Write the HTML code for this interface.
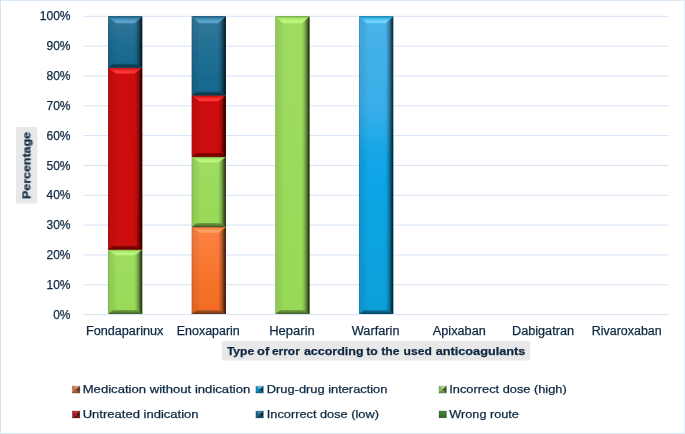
<!DOCTYPE html>
<html><head><meta charset="utf-8"><title>Chart</title>
<style>html,body{margin:0;padding:0;background:#fff;}body{width:685px;height:434px;overflow:hidden;font-family:"Liberation Sans",sans-serif;}</style>
</head><body>
<svg width="685" height="434" viewBox="0 0 685 434" style="display:block">
<defs><linearGradient id="g_orange" x1="0" y1="0" x2="0" y2="1"><stop offset="0" stop-color="#FC8344"/><stop offset="0.4" stop-color="#F97832"/><stop offset="1" stop-color="#F26B22"/></linearGradient>
<linearGradient id="l_orange" x1="0" y1="0" x2="1" y2="0"><stop offset="0" stop-color="#000" stop-opacity="0.30"/><stop offset="0.14" stop-color="#000" stop-opacity="0.08"/><stop offset="1" stop-color="#000" stop-opacity="0.03"/></linearGradient>
<linearGradient id="r_orange" x1="1" y1="0" x2="0" y2="0"><stop offset="0" stop-color="#000" stop-opacity="0.82"/><stop offset="0.25" stop-color="#000" stop-opacity="0.58"/><stop offset="0.5" stop-color="#000" stop-opacity="0.30"/><stop offset="0.8" stop-color="#000" stop-opacity="0.09"/><stop offset="1" stop-color="#000" stop-opacity="0.03"/></linearGradient>
<linearGradient id="t_orange" x1="0" y1="0" x2="0" y2="1"><stop offset="0" stop-color="#ab5121"/><stop offset="0.25" stop-color="#f98848"/><stop offset="0.7" stop-color="#FFA066"/><stop offset="1" stop-color="#FFA066"/></linearGradient>
<linearGradient id="b_orange" x1="0" y1="1" x2="0" y2="0"><stop offset="0" stop-color="#663114"/><stop offset="1" stop-color="#b95824"/></linearGradient>
<linearGradient id="g_lblue" x1="0" y1="0" x2="0" y2="1"><stop offset="0" stop-color="#49B3EA"/><stop offset="0.3" stop-color="#3AAEE9"/><stop offset="0.48" stop-color="#12A6E8"/><stop offset="1" stop-color="#0B9FDA"/></linearGradient>
<linearGradient id="l_lblue" x1="0" y1="0" x2="1" y2="0"><stop offset="0" stop-color="#000" stop-opacity="0.30"/><stop offset="0.14" stop-color="#000" stop-opacity="0.08"/><stop offset="1" stop-color="#000" stop-opacity="0.03"/></linearGradient>
<linearGradient id="r_lblue" x1="1" y1="0" x2="0" y2="0"><stop offset="0" stop-color="#000" stop-opacity="0.82"/><stop offset="0.25" stop-color="#000" stop-opacity="0.58"/><stop offset="0.5" stop-color="#000" stop-opacity="0.30"/><stop offset="0.8" stop-color="#000" stop-opacity="0.09"/><stop offset="1" stop-color="#000" stop-opacity="0.03"/></linearGradient>
<linearGradient id="t_lblue" x1="0" y1="0" x2="0" y2="1"><stop offset="0" stop-color="#086f99"/><stop offset="0.25" stop-color="#39b7ea"/><stop offset="0.7" stop-color="#70D4FD"/><stop offset="1" stop-color="#70D4FD"/></linearGradient>
<linearGradient id="b_lblue" x1="0" y1="1" x2="0" y2="0"><stop offset="0" stop-color="#05435c"/><stop offset="1" stop-color="#0979a6"/></linearGradient>
<linearGradient id="g_lgreen" x1="0" y1="0" x2="0" y2="1"><stop offset="0" stop-color="#9edc61"/><stop offset="1" stop-color="#98DA57"/></linearGradient>
<linearGradient id="l_lgreen" x1="0" y1="0" x2="1" y2="0"><stop offset="0" stop-color="#000" stop-opacity="0.30"/><stop offset="0.14" stop-color="#000" stop-opacity="0.08"/><stop offset="1" stop-color="#000" stop-opacity="0.03"/></linearGradient>
<linearGradient id="r_lgreen" x1="1" y1="0" x2="0" y2="0"><stop offset="0" stop-color="#000" stop-opacity="0.82"/><stop offset="0.25" stop-color="#000" stop-opacity="0.58"/><stop offset="0.5" stop-color="#000" stop-opacity="0.30"/><stop offset="0.8" stop-color="#000" stop-opacity="0.09"/><stop offset="1" stop-color="#000" stop-opacity="0.03"/></linearGradient>
<linearGradient id="t_lgreen" x1="0" y1="0" x2="0" y2="1"><stop offset="0" stop-color="#6a993d"/><stop offset="0.25" stop-color="#a8e768"/><stop offset="0.7" stop-color="#BBF67C"/><stop offset="1" stop-color="#BBF67C"/></linearGradient>
<linearGradient id="b_lgreen" x1="0" y1="1" x2="0" y2="0"><stop offset="0" stop-color="#405c25"/><stop offset="1" stop-color="#74a642"/></linearGradient>
<linearGradient id="g_red" x1="0" y1="0" x2="0" y2="1"><stop offset="0" stop-color="#cd0d0d"/><stop offset="1" stop-color="#CC0808"/></linearGradient>
<linearGradient id="l_red" x1="0" y1="0" x2="1" y2="0"><stop offset="0" stop-color="#000" stop-opacity="0.30"/><stop offset="0.14" stop-color="#000" stop-opacity="0.08"/><stop offset="1" stop-color="#000" stop-opacity="0.03"/></linearGradient>
<linearGradient id="r_red" x1="1" y1="0" x2="0" y2="0"><stop offset="0" stop-color="#000" stop-opacity="0.82"/><stop offset="0.25" stop-color="#000" stop-opacity="0.58"/><stop offset="0.5" stop-color="#000" stop-opacity="0.30"/><stop offset="0.8" stop-color="#000" stop-opacity="0.09"/><stop offset="1" stop-color="#000" stop-opacity="0.03"/></linearGradient>
<linearGradient id="t_red" x1="0" y1="0" x2="0" y2="1"><stop offset="0" stop-color="#8f0606"/><stop offset="0.25" stop-color="#e31c1c"/><stop offset="0.7" stop-color="#FF3434"/><stop offset="1" stop-color="#FF3434"/></linearGradient>
<linearGradient id="b_red" x1="0" y1="1" x2="0" y2="0"><stop offset="0" stop-color="#560303"/><stop offset="1" stop-color="#9b0606"/></linearGradient>
<linearGradient id="g_dblue" x1="0" y1="0" x2="0" y2="1"><stop offset="0" stop-color="#34779B"/><stop offset="0.5" stop-color="#1F6E93"/><stop offset="1" stop-color="#14678E"/></linearGradient>
<linearGradient id="l_dblue" x1="0" y1="0" x2="1" y2="0"><stop offset="0" stop-color="#000" stop-opacity="0.30"/><stop offset="0.14" stop-color="#000" stop-opacity="0.08"/><stop offset="1" stop-color="#000" stop-opacity="0.03"/></linearGradient>
<linearGradient id="r_dblue" x1="1" y1="0" x2="0" y2="0"><stop offset="0" stop-color="#000" stop-opacity="0.82"/><stop offset="0.25" stop-color="#000" stop-opacity="0.58"/><stop offset="0.5" stop-color="#000" stop-opacity="0.30"/><stop offset="0.8" stop-color="#000" stop-opacity="0.09"/><stop offset="1" stop-color="#000" stop-opacity="0.03"/></linearGradient>
<linearGradient id="t_dblue" x1="0" y1="0" x2="0" y2="1"><stop offset="0" stop-color="#104a65"/><stop offset="0.25" stop-color="#3684ab"/><stop offset="0.7" stop-color="#5CA3CB"/><stop offset="1" stop-color="#5CA3CB"/></linearGradient>
<linearGradient id="b_dblue" x1="0" y1="1" x2="0" y2="0"><stop offset="0" stop-color="#0a2d3c"/><stop offset="1" stop-color="#11516d"/></linearGradient>
<linearGradient id="g_dgreen" x1="0" y1="0" x2="0" y2="1"><stop offset="0" stop-color="#4d8240"/><stop offset="1" stop-color="#2E6C1E"/></linearGradient>
<linearGradient id="l_dgreen" x1="0" y1="0" x2="1" y2="0"><stop offset="0" stop-color="#000" stop-opacity="0.30"/><stop offset="0.14" stop-color="#000" stop-opacity="0.08"/><stop offset="1" stop-color="#000" stop-opacity="0.03"/></linearGradient>
<linearGradient id="r_dgreen" x1="1" y1="0" x2="0" y2="0"><stop offset="0" stop-color="#000" stop-opacity="0.82"/><stop offset="0.25" stop-color="#000" stop-opacity="0.58"/><stop offset="0.5" stop-color="#000" stop-opacity="0.30"/><stop offset="0.8" stop-color="#000" stop-opacity="0.09"/><stop offset="1" stop-color="#000" stop-opacity="0.03"/></linearGradient>
<linearGradient id="t_dgreen" x1="0" y1="0" x2="0" y2="1"><stop offset="0" stop-color="#204c15"/><stop offset="0.25" stop-color="#428734"/><stop offset="0.7" stop-color="#5AA850"/><stop offset="1" stop-color="#5AA850"/></linearGradient>
<linearGradient id="b_dgreen" x1="0" y1="1" x2="0" y2="0"><stop offset="0" stop-color="#132d0d"/><stop offset="1" stop-color="#235217"/></linearGradient><filter id="soft" x="-5%" y="-5%" width="110%" height="110%"><feGaussianBlur stdDeviation="0.45"/></filter><filter id="tsoft" x="-2%" y="-2%" width="104%" height="104%"><feGaussianBlur stdDeviation="0.35"/></filter></defs>
<rect x="0" y="0" width="685" height="434" fill="#ffffff"/>
<rect x="0" y="0" width="685" height="1" fill="#DBE8F6"/><rect x="0" y="433" width="685" height="1" fill="#DDE8F5"/><rect x="684" y="0" width="1" height="434" fill="#E6EEF9"/><rect x="0" y="0" width="1" height="434" fill="#D4E3F4"/>
<line x1="83.3" y1="314.60" x2="669.0" y2="314.60" stroke="#D6E3F4" stroke-width="1"/>
<line x1="83.3" y1="284.77" x2="669.0" y2="284.77" stroke="#D6E3F4" stroke-width="1"/>
<line x1="83.3" y1="254.94" x2="669.0" y2="254.94" stroke="#D6E3F4" stroke-width="1"/>
<line x1="83.3" y1="225.11" x2="669.0" y2="225.11" stroke="#D6E3F4" stroke-width="1"/>
<line x1="83.3" y1="195.28" x2="669.0" y2="195.28" stroke="#D6E3F4" stroke-width="1"/>
<line x1="83.3" y1="165.45" x2="669.0" y2="165.45" stroke="#D6E3F4" stroke-width="1"/>
<line x1="83.3" y1="135.62" x2="669.0" y2="135.62" stroke="#D6E3F4" stroke-width="1"/>
<line x1="83.3" y1="105.79" x2="669.0" y2="105.79" stroke="#D6E3F4" stroke-width="1"/>
<line x1="83.3" y1="75.96" x2="669.0" y2="75.96" stroke="#D6E3F4" stroke-width="1"/>
<line x1="83.3" y1="46.13" x2="669.0" y2="46.13" stroke="#D6E3F4" stroke-width="1"/>
<line x1="83.3" y1="16.30" x2="669.0" y2="16.30" stroke="#D6E3F4" stroke-width="1"/>
<g filter="url(#soft)">
<rect x="108.04" y="249.57" width="34.20" height="64.43" fill="url(#g_lgreen)"/>
<polygon points="108.04,249.57 115.74,255.37 115.74,314.00 108.04,314.00" fill="url(#l_lgreen)"/>
<polygon points="142.24,249.57 134.54,255.37 134.54,314.00 142.24,314.00" fill="url(#r_lgreen)"/>
<polygon points="108.04,249.57 142.24,249.57 134.54,255.37 115.74,255.37" fill="url(#t_lgreen)"/>
<polygon points="108.04,314.00 142.24,314.00 137.24,310.10 113.04,310.10" fill="url(#b_lgreen)"/>
<rect x="108.04" y="67.61" width="34.20" height="181.96" fill="url(#g_red)"/>
<polygon points="108.04,67.61 115.74,73.41 115.74,249.57 108.04,249.57" fill="url(#l_red)"/>
<polygon points="142.24,67.61 134.54,73.41 134.54,249.57 142.24,249.57" fill="url(#r_red)"/>
<polygon points="108.04,67.61 142.24,67.61 134.54,73.41 115.74,73.41" fill="url(#t_red)"/>
<polygon points="108.04,249.57 142.24,249.57 137.24,245.67 113.04,245.67" fill="url(#b_red)"/>
<rect x="108.04" y="16.30" width="34.20" height="51.31" fill="url(#g_dblue)"/>
<polygon points="108.04,16.30 115.74,23.30 115.74,67.61 108.04,67.61" fill="url(#l_dblue)"/>
<polygon points="142.24,16.30 134.54,23.30 134.54,67.61 142.24,67.61" fill="url(#r_dblue)"/>
<polygon points="108.04,16.30 142.24,16.30 134.54,23.30 115.74,23.30" fill="url(#t_dblue)"/>
<polygon points="108.04,67.61 142.24,67.61 137.24,63.71 113.04,63.71" fill="url(#b_dblue)"/>
<rect x="191.71" y="226.90" width="34.20" height="87.10" fill="url(#g_orange)"/>
<polygon points="191.71,226.90 199.41,232.70 199.41,314.00 191.71,314.00" fill="url(#l_orange)"/>
<polygon points="225.91,226.90 218.21,232.70 218.21,314.00 225.91,314.00" fill="url(#r_orange)"/>
<polygon points="191.71,226.90 225.91,226.90 218.21,232.70 199.41,232.70" fill="url(#t_orange)"/>
<polygon points="191.71,314.00 225.91,314.00 220.91,310.10 196.71,310.10" fill="url(#b_orange)"/>
<rect x="191.71" y="156.80" width="34.20" height="70.10" fill="url(#g_lgreen)"/>
<polygon points="191.71,156.80 199.41,162.60 199.41,226.90 191.71,226.90" fill="url(#l_lgreen)"/>
<polygon points="225.91,156.80 218.21,162.60 218.21,226.90 225.91,226.90" fill="url(#r_lgreen)"/>
<polygon points="191.71,156.80 225.91,156.80 218.21,162.60 199.41,162.60" fill="url(#t_lgreen)"/>
<polygon points="191.71,226.90 225.91,226.90 220.91,223.00 196.71,223.00" fill="url(#b_lgreen)"/>
<rect x="191.71" y="95.35" width="34.20" height="61.45" fill="url(#g_red)"/>
<polygon points="191.71,95.35 199.41,101.15 199.41,156.80 191.71,156.80" fill="url(#l_red)"/>
<polygon points="225.91,95.35 218.21,101.15 218.21,156.80 225.91,156.80" fill="url(#r_red)"/>
<polygon points="191.71,95.35 225.91,95.35 218.21,101.15 199.41,101.15" fill="url(#t_red)"/>
<polygon points="191.71,156.80 225.91,156.80 220.91,152.90 196.71,152.90" fill="url(#b_red)"/>
<rect x="191.71" y="16.30" width="34.20" height="79.05" fill="url(#g_dblue)"/>
<polygon points="191.71,16.30 199.41,23.30 199.41,95.35 191.71,95.35" fill="url(#l_dblue)"/>
<polygon points="225.91,16.30 218.21,23.30 218.21,95.35 225.91,95.35" fill="url(#r_dblue)"/>
<polygon points="191.71,16.30 225.91,16.30 218.21,23.30 199.41,23.30" fill="url(#t_dblue)"/>
<polygon points="191.71,95.35 225.91,95.35 220.91,91.45 196.71,91.45" fill="url(#b_dblue)"/>
<rect x="275.38" y="16.30" width="34.20" height="297.70" fill="url(#g_lgreen)"/>
<polygon points="275.38,16.30 283.08,23.30 283.08,314.00 275.38,314.00" fill="url(#l_lgreen)"/>
<polygon points="309.58,16.30 301.88,23.30 301.88,314.00 309.58,314.00" fill="url(#r_lgreen)"/>
<polygon points="275.38,16.30 309.58,16.30 301.88,23.30 283.08,23.30" fill="url(#t_lgreen)"/>
<polygon points="275.38,314.00 309.58,314.00 304.58,310.10 280.38,310.10" fill="url(#b_lgreen)"/>
<rect x="359.05" y="16.30" width="34.20" height="297.70" fill="url(#g_lblue)"/>
<polygon points="359.05,16.30 366.75,23.30 366.75,314.00 359.05,314.00" fill="url(#l_lblue)"/>
<polygon points="393.25,16.30 385.55,23.30 385.55,314.00 393.25,314.00" fill="url(#r_lblue)"/>
<polygon points="359.05,16.30 393.25,16.30 385.55,23.30 366.75,23.30" fill="url(#t_lblue)"/>
<polygon points="359.05,314.00 393.25,314.00 388.25,310.10 364.05,310.10" fill="url(#b_lblue)"/>
</g>
<g font-family="'Liberation Sans', sans-serif" fill="#0E2841" stroke="#0E2841" stroke-width="0.25" filter="url(#tsoft)">
<text x="53.2" y="318.6" text-anchor="start" textLength="17.3" lengthAdjust="spacingAndGlyphs" font-size="12">0%</text>
<text x="46.5" y="288.8" text-anchor="start" textLength="24.0" lengthAdjust="spacingAndGlyphs" font-size="12">10%</text>
<text x="46.5" y="258.9" text-anchor="start" textLength="24.0" lengthAdjust="spacingAndGlyphs" font-size="12">20%</text>
<text x="46.5" y="229.1" text-anchor="start" textLength="24.0" lengthAdjust="spacingAndGlyphs" font-size="12">30%</text>
<text x="46.5" y="199.3" text-anchor="start" textLength="24.0" lengthAdjust="spacingAndGlyphs" font-size="12">40%</text>
<text x="46.5" y="169.5" text-anchor="start" textLength="24.0" lengthAdjust="spacingAndGlyphs" font-size="12">50%</text>
<text x="46.5" y="139.6" text-anchor="start" textLength="24.0" lengthAdjust="spacingAndGlyphs" font-size="12">60%</text>
<text x="46.5" y="109.8" text-anchor="start" textLength="24.0" lengthAdjust="spacingAndGlyphs" font-size="12">70%</text>
<text x="46.5" y="80.0" text-anchor="start" textLength="24.0" lengthAdjust="spacingAndGlyphs" font-size="12">80%</text>
<text x="46.5" y="50.1" text-anchor="start" textLength="24.0" lengthAdjust="spacingAndGlyphs" font-size="12">90%</text>
<text x="39.8" y="20.3" text-anchor="start" textLength="30.7" lengthAdjust="spacingAndGlyphs" font-size="12">100%</text>
<text x="85.9" y="335.1" text-anchor="start" textLength="77.5" lengthAdjust="spacingAndGlyphs" font-size="12">Fondaparinux</text>
<text x="176.8" y="335.1" text-anchor="start" textLength="63.0" lengthAdjust="spacingAndGlyphs" font-size="12">Enoxaparin</text>
<text x="269.2" y="335.1" text-anchor="start" textLength="45.6" lengthAdjust="spacingAndGlyphs" font-size="12">Heparin</text>
<text x="351.8" y="335.1" text-anchor="start" textLength="47.7" lengthAdjust="spacingAndGlyphs" font-size="12">Warfarin</text>
<text x="432.8" y="335.1" text-anchor="start" textLength="53.0" lengthAdjust="spacingAndGlyphs" font-size="12">Apixaban</text>
<text x="512.0" y="335.1" text-anchor="start" textLength="62.0" lengthAdjust="spacingAndGlyphs" font-size="12">Dabigatran</text>
<text x="591.7" y="335.1" text-anchor="start" textLength="70.0" lengthAdjust="spacingAndGlyphs" font-size="12">Rivaroxaban</text>
</g>
<rect x="222" y="341" width="308" height="19.6" fill="#E8E8E8"/>
<rect x="16" y="127" width="21.3" height="76.6" fill="#E8E8E8"/>
<g font-family="'Liberation Sans', sans-serif" fill="#0E2841" stroke="#0E2841" stroke-width="0.25" filter="url(#tsoft)">
<text x="226.9" y="355.3" text-anchor="start" textLength="27.3" lengthAdjust="spacingAndGlyphs" font-weight="700" font-size="11.4">Type</text>
<text x="257.1" y="355.3" text-anchor="start" textLength="12.1" lengthAdjust="spacingAndGlyphs" font-weight="700" font-size="11.4">of</text>
<text x="271.9" y="355.3" text-anchor="start" textLength="27.9" lengthAdjust="spacingAndGlyphs" font-weight="700" font-size="11.4">error</text>
<text x="303.9" y="355.3" text-anchor="start" textLength="59.7" lengthAdjust="spacingAndGlyphs" font-weight="700" font-size="11.4">according</text>
<text x="366.3" y="355.3" text-anchor="start" textLength="11.5" lengthAdjust="spacingAndGlyphs" font-weight="700" font-size="11.4">to</text>
<text x="381.3" y="355.3" text-anchor="start" textLength="18.2" lengthAdjust="spacingAndGlyphs" font-weight="700" font-size="11.4">the</text>
<text x="403.6" y="355.3" text-anchor="start" textLength="28.2" lengthAdjust="spacingAndGlyphs" font-weight="700" font-size="11.4">used</text>
<text x="435.7" y="355.3" text-anchor="start" textLength="89.7" lengthAdjust="spacingAndGlyphs" font-weight="700" font-size="11.4">anticoagulants</text>
<g transform="translate(30.4,198.9) rotate(-90)"><text x="0.0" y="0.0" text-anchor="start" textLength="67.0" lengthAdjust="spacingAndGlyphs" font-weight="700" font-size="11.4">Percentage</text></g>
<g filter="url(#soft)"><polygon points="72.4,386.2 79.80000000000001,386.2 76.10000000000001,389.65" fill="#fb8e50"/><polygon points="72.4,386.2 76.10000000000001,389.65 72.4,393.09999999999997" fill="#e06b2b"/><polygon points="79.80000000000001,386.2 79.80000000000001,393.09999999999997 76.10000000000001,389.65" fill="#5d2c12"/><polygon points="72.4,393.09999999999997 79.80000000000001,393.09999999999997 76.10000000000001,389.65" fill="#ab5121"/></g>
<text x="82.7" y="392.6" text-anchor="start" textLength="167.6" lengthAdjust="spacingAndGlyphs" font-size="11.1">Medication without indication</text>
<g filter="url(#soft)"><polygon points="255.9,386.2 263.3,386.2 259.6,389.65" fill="#48bfef"/><polygon points="255.9,386.2 259.6,389.65 255.9,393.09999999999997" fill="#0b92c9"/><polygon points="263.3,386.2 263.3,393.09999999999997 259.6,389.65" fill="#053c53"/><polygon points="255.9,393.09999999999997 263.3,393.09999999999997 259.6,389.65" fill="#086f99"/></g>
<text x="266.8" y="392.6" text-anchor="start" textLength="120.6" lengthAdjust="spacingAndGlyphs" font-size="11.1">Drug-drug interaction</text>
<g filter="url(#soft)"><polygon points="439.0,386.2 446.4,386.2 442.7,389.65" fill="#adeb6d"/><polygon points="439.0,386.2 442.7,389.65 439.0,393.09999999999997" fill="#8cc950"/><polygon points="446.4,386.2 446.4,393.09999999999997 442.7,389.65" fill="#3a5321"/><polygon points="439.0,393.09999999999997 446.4,393.09999999999997 442.7,389.65" fill="#6a993d"/></g>
<text x="449.3" y="392.6" text-anchor="start" textLength="117.4" lengthAdjust="spacingAndGlyphs" font-size="11.1">Incorrect dose (high)</text>
<g filter="url(#soft)"><polygon points="72.4,411.0 79.80000000000001,411.0 76.10000000000001,414.45" fill="#eb2222"/><polygon points="72.4,411.0 76.10000000000001,414.45 72.4,417.9" fill="#bc0707"/><polygon points="79.80000000000001,411.0 79.80000000000001,417.9 76.10000000000001,414.45" fill="#4e0303"/><polygon points="72.4,417.9 79.80000000000001,417.9 76.10000000000001,414.45" fill="#8f0606"/></g>
<text x="82.7" y="418.1" text-anchor="start" textLength="115.9" lengthAdjust="spacingAndGlyphs" font-size="11.1">Untreated indication</text>
<g filter="url(#soft)"><polygon points="255.9,411.0 263.3,411.0 259.6,414.45" fill="#408cb3"/><polygon points="255.9,411.0 259.6,414.45 255.9,417.9" fill="#156284"/><polygon points="263.3,411.0 263.3,417.9 259.6,414.45" fill="#092837"/><polygon points="255.9,417.9 263.3,417.9 259.6,414.45" fill="#104a65"/></g>
<text x="266.8" y="418.1" text-anchor="start" textLength="112.1" lengthAdjust="spacingAndGlyphs" font-size="11.1">Incorrect dose (low)</text>
<g filter="url(#soft)"><rect x="439.0" y="411.0" width="7.4" height="6.9" fill="url(#g_dgreen)"/></g>
<text x="449.3" y="418.1" text-anchor="start" textLength="69.6" lengthAdjust="spacingAndGlyphs" font-size="11.1">Wrong route</text>
</g>
</svg>
</body></html>
